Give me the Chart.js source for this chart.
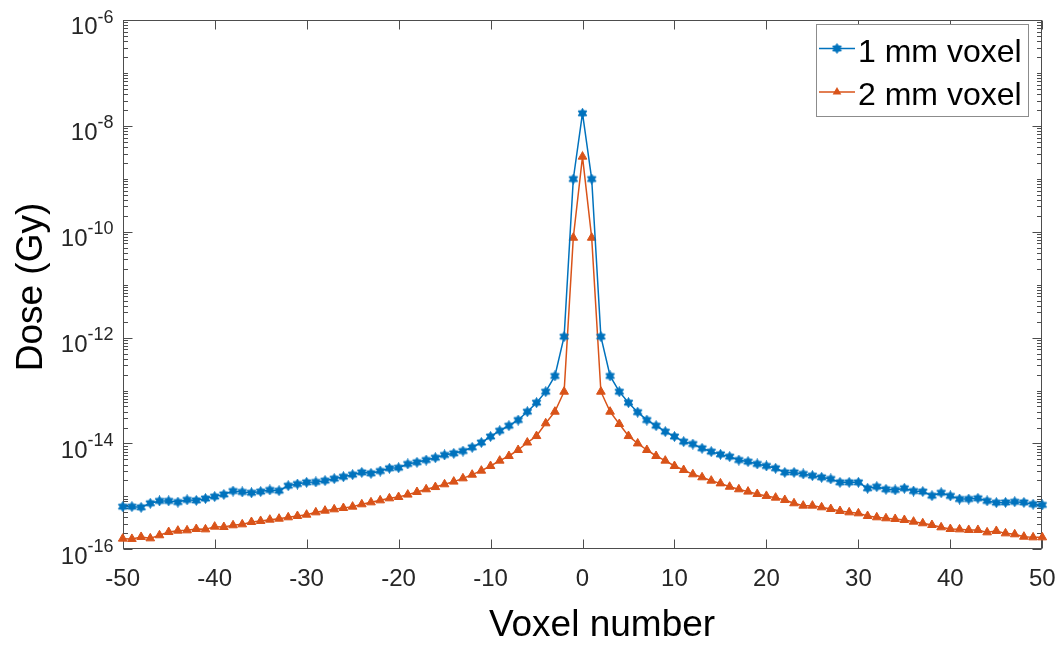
<!DOCTYPE html>
<html><head><meta charset="utf-8">
<script src="https://cdn.jsdelivr.net/npm/chart.js@4.4.0/dist/chart.umd.min.js"></script>
<style>html,body{margin:0;padding:0;background:#fff;}#wrap{width:1060px;height:645px;position:relative;}</style>
</head><body><div id="wrap"><canvas id="c" width="1060" height="645"></canvas></div>
<script>
const voxels = [-50,-49,-48,-47,-46,-45,-44,-43,-42,-41,-40,-39,-38,-37,-36,-35,-34,-33,-32,-31,-30,-29,-28,-27,-26,-25,-24,-23,-22,-21,-20,-19,-18,-17,-16,-15,-14,-13,-12,-11,-10,-9,-8,-7,-6,-5,-4,-3,-2,-1,0,1,2,3,4,5,6,7,8,9,10,11,12,13,14,15,16,17,18,19,20,21,22,23,24,25,26,27,28,29,30,31,32,33,34,35,36,37,38,39,40,41,42,43,44,45,46,47,48,49,50];
const dose1mm = [6.4e-16,6.4e-16,6.2e-16,7.4e-16,8.2e-16,8.2e-16,7.8e-16,8.6e-16,8.4e-16,9.1e-16,
  9.9e-16,1.09e-15,1.26e-15,1.21e-15,1.17e-15,1.23e-15,1.32e-15,1.28e-15,1.59e-15,1.71e-15,
  1.84e-15,1.87e-15,1.98e-15,2.16e-15,2.35e-15,2.57e-15,2.84e-15,2.72e-15,3.01e-15,3.39e-15,
  3.48e-15,4.09e-15,4.40e-15,4.86e-15,5.38e-15,6.05e-15,6.50e-15,7.19e-15,8.43e-15,1.04e-14,
  1.35e-14,1.74e-14,2.16e-14,2.77e-14,3.98e-14,5.89e-14,9.5e-14,1.88e-13,1.04e-12,9.9e-10,
  1.73e-8,
  9.9e-10,1.04e-12,1.88e-13,9.5e-14,5.89e-14,3.9e-14,2.77e-14,2.16e-14,1.67e-14,1.35e-14,
  1.08e-14,9.75e-15,8.09e-15,7.0e-15,6.22e-15,5.62e-15,4.86e-15,4.53e-15,4.09e-15,3.75e-15,
  3.39e-15,2.84e-15,2.84e-15,2.65e-15,2.46e-15,2.29e-15,2.13e-15,1.84e-15,1.84e-15,1.84e-15,
  1.42e-15,1.52e-15,1.36e-15,1.32e-15,1.42e-15,1.26e-15,1.23e-15,1.03e-15,1.17e-15,1.02e-15,
  8.9e-16,8.9e-16,9.2e-16,8.2e-16,7.6e-16,7.7e-16,7.9e-16,7.7e-16,7.1e-16,6.9e-16];
const dose2mm = [1.59e-16,1.57e-16,1.71e-16,1.61e-16,1.84e-16,2.12e-16,2.25e-16,2.28e-16,2.42e-16,2.38e-16,
  2.68e-16,2.64e-16,2.84e-16,2.96e-16,3.28e-16,3.43e-16,3.63e-16,3.79e-16,4.02e-16,4.26e-16,
  4.51e-16,4.99e-16,5.37e-16,5.69e-16,6.03e-16,6.40e-16,7.08e-16,7.71e-16,8.41e-16,9.18e-16,
  9.73e-16,1.08e-15,1.21e-15,1.36e-15,1.50e-15,1.69e-15,1.90e-15,2.19e-15,2.57e-15,3.06e-15,
  3.75e-15,4.73e-15,5.79e-15,7.52e-15,1.04e-14,1.38e-14,2.40e-14,3.98e-14,9.5e-14,7.7e-11,
  2.62e-9,
  7.7e-11,9.5e-14,3.98e-14,2.33e-14,1.38e-14,1.0e-14,7.52e-15,5.79e-15,4.73e-15,3.75e-15,
  3.15e-15,2.61e-15,2.29e-15,1.98e-15,1.76e-15,1.52e-15,1.36e-15,1.23e-15,1.11e-15,1.02e-15,
  9.46e-16,8.55e-16,7.40e-16,6.68e-16,6.68e-16,6.21e-16,5.77e-16,5.29e-16,4.99e-16,4.78e-16,
  4.26e-16,4.02e-16,3.85e-16,3.74e-16,3.58e-16,3.33e-16,3.10e-16,2.88e-16,2.60e-16,2.42e-16,
  2.38e-16,2.32e-16,2.32e-16,2.09e-16,2.22e-16,2.00e-16,1.92e-16,1.73e-16,1.68e-16,1.68e-16];
const seriesNames = ['1 mm voxel', '2 mm voxel'];
const xTickValues = [-50,-40,-30,-20,-10,0,10,20,30,40,50];
const yTickBase = '10';
const yTickExponents = [-16,-14,-12,-10,-8,-6];
const xTitle = 'Voxel number';
const yTitle = 'Dose (Gy)';

const BLUE = '#0072BD', ORANGE = '#D95319', AX = '#262626';
const FONT = '"Liberation Sans", Arial, Helvetica, sans-serif';

function hexagram(size, color) {
  const c = document.createElement('canvas');
  c.width = c.height = size;
  const g = c.getContext('2d');
  const cx = size / 2, cy = size / 2, R = size / 2 - 0.5, r = R * 0.6;
  g.beginPath();
  for (let i = 0; i < 12; i++) {
    const a = -Math.PI / 2 + i * Math.PI / 6;
    const rr = i % 2 === 0 ? R : r;
    g.lineTo(cx + rr * Math.cos(a), cy + rr * Math.sin(a));
  }
  g.closePath();
  g.fillStyle = color; g.fill();
  g.strokeStyle = color; g.lineWidth = 0.8; g.stroke();
  return c;
}
const hexImg = hexagram(11, BLUE);

const frame = {
  id: 'frame',
  beforeDatasetsDraw(chart) {
    const { ctx, chartArea: a, scales: { x, y } } = chart;
    ctx.save();
    ctx.strokeStyle = '#4d4d4d';
    ctx.lineWidth = 1;
    const L = Math.round(a.left) + 0.5, R = Math.round(a.right) - 0.5;
    const T = Math.round(a.top) + 0.5, B = Math.round(a.bottom) - 0.5;
    ctx.strokeRect(L, T, R - L, B - T);
    ctx.beginPath();
    xTickValues.forEach(v => {
      const px = Math.round(x.getPixelForValue(v)) + 0.5;
      ctx.moveTo(px, B); ctx.lineTo(px, B - 9);
      ctx.moveTo(px, T); ctx.lineTo(px, T + 9);
    });
    for (let e = -16; e <= -6; e++) {
      for (let m = 1; m <= 9; m++) {
        if (e === -6 && m > 1) break;
        const v = m * Math.pow(10, e);
        const py = Math.round(y.getPixelForValue(v)) + 0.5;
        const major = (m === 1 && e % 2 === 0);
        const len = major ? 9 : 4.5;
        ctx.moveTo(L, py); ctx.lineTo(L + len, py);
        ctx.moveTo(R, py); ctx.lineTo(R - len, py);
      }
    }
    ctx.stroke();
    ctx.restore();
  },
  afterDraw(chart) {
    const { ctx, chartArea: a, scales: { x, y } } = chart;
    ctx.save();
    ctx.fillStyle = AX;
    ctx.font = '24px ' + FONT;
    ctx.textAlign = 'center'; ctx.textBaseline = 'alphabetic';
    xTickValues.forEach(v => {
      ctx.fillText(String(v), x.getPixelForValue(v), 585.5);
    });
    yTickExponents.forEach(e => {
      const py = y.getPixelForValue(Math.pow(10, e));
      const expTxt = String(e);
      ctx.font = '18px ' + FONT;
      const ew = ctx.measureText(expTxt).width;
      ctx.textAlign = 'left';
      const right = 113.5;
      ctx.fillText(expTxt, right - ew, py + 2.5);
      ctx.font = '24px ' + FONT;
      const bw = ctx.measureText(yTickBase).width;
      ctx.fillText(yTickBase, right - ew - bw, py + 14.3);
    });
    ctx.fillStyle = '#000';
    ctx.font = '37px ' + FONT;
    ctx.textAlign = 'center';
    ctx.fillText(xTitle, 602, 636);
    ctx.save();
    ctx.translate(42, 287);
    ctx.rotate(-Math.PI / 2);
    ctx.fillText(yTitle, 0, 0);
    ctx.restore();
    ctx.fillStyle = '#fff';
    ctx.fillRect(816.5, 24.5, 212, 92);
    ctx.strokeStyle = '#8c8c8c'; ctx.lineWidth = 1;
    ctx.strokeRect(816.5, 24.5, 212, 92);
    const rows = [{ y: 48.5, c: BLUE, n: seriesNames[0], tb: 62 }, { y: 92, c: ORANGE, n: seriesNames[1], tb: 105 }];
    rows.forEach((r, i) => {
      ctx.strokeStyle = r.c; ctx.lineWidth = 1.5;
      ctx.beginPath(); ctx.moveTo(819, r.y); ctx.lineTo(855, r.y); ctx.stroke();
      if (i === 0) {
        ctx.drawImage(hexImg, 837 - 5.5, r.y - 5.5);
      } else {
        const rad = 5;
        ctx.fillStyle = ORANGE;
        ctx.beginPath();
        ctx.moveTo(837, r.y - rad);
        ctx.lineTo(837 + rad * 0.866, r.y + rad * 0.5);
        ctx.lineTo(837 - rad * 0.866, r.y + rad * 0.5);
        ctx.closePath(); ctx.fill();
      }
      ctx.fillStyle = '#000';
      ctx.font = '32px ' + FONT;
      ctx.textAlign = 'left';
      ctx.fillText(r.n, 858, r.tb);
    });
    ctx.restore();
  }
};

new Chart(document.getElementById('c'), {
  type: 'line',
  data: {
    datasets: [
      {
        label: seriesNames[0],
        data: voxels.map((v, i) => ({ x: v, y: dose1mm[i] })),
        borderColor: BLUE, backgroundColor: BLUE, borderWidth: 1.5,
        pointStyle: hexImg, pointRadius: 5, pointHoverRadius: 5,
        tension: 0, clip: false
      },
      {
        label: seriesNames[1],
        data: voxels.map((v, i) => ({ x: v, y: dose2mm[i] })),
        borderColor: ORANGE, backgroundColor: ORANGE, borderWidth: 1.5,
        pointStyle: 'triangle', pointRadius: 5, pointBorderWidth: 1,
        pointBorderColor: ORANGE, pointBackgroundColor: ORANGE,
        tension: 0, clip: false
      }
    ]
  },
  options: {
    responsive: false, animation: false, devicePixelRatio: 1,
    layout: { padding: { left: 122.7, right: 17.7, top: 20, bottom: 95.7 } },
    plugins: { legend: { display: false }, tooltip: { enabled: false } },
    scales: {
      x: { type: 'linear', min: -50, max: 50, display: false },
      y: { type: 'logarithmic', min: 1e-16, max: 1e-6, display: false }
    }
  },
  plugins: [frame]
});
</script>
</body></html>
